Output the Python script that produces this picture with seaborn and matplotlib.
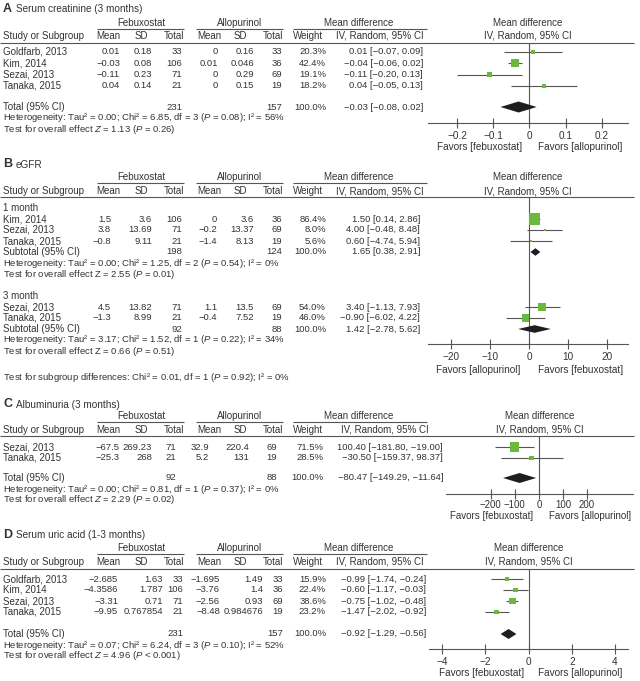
import matplotlib
matplotlib.use("Agg")
import matplotlib.pyplot as plt
import numpy as np
import pandas as pd
import seaborn as sns
from matplotlib.ticker import FuncFormatter

# ---------------- data ----------------
# Panel A: Serum creatinine (3 months)
A_study = ["Goldfarb, 2013", "Kim, 2014", "Sezai, 2013", "Tanaka, 2015"]
A_feb_mean = [0.01, -0.03, -0.11, 0.04]
A_feb_sd = [0.18, 0.08, 0.23, 0.14]
A_feb_n = [33, 106, 71, 21]
A_allo_mean = [0, 0.01, 0, 0]
A_allo_sd = [0.16, 0.046, 0.29, 0.15]
A_allo_n = [33, 36, 69, 19]
A_weight = [20.3, 42.4, 19.1, 18.2]
A_md = [0.01, -0.04, -0.11, 0.04]
A_lo = [-0.07, -0.06, -0.20, -0.05]
A_hi = [0.09, -0.02, -0.02, 0.13]
A_ci_text = ["0.01 [−0.07, 0.09]", "−0.04 [−0.06, 0.02]", "−0.11 [−0.20, 0.13]", "0.04 [−0.05, 0.13]"]
A_total_n = [231, 157]
A_total_md = [-0.03, -0.08, 0.02]
A_het = r"Heterogeneity: Tau² = 0.00; Chi² = 6.85, df = 3 ($P$ = 0.08); I² = 56%"
A_test = r"Test for overall effect $Z$ = 1.13 ($P$ = 0.26)"
A_ticks = [-0.2, -0.1, 0, 0.1, 0.2]
A_favors = ["Favors [febuxostat]", "Favors [allopurinol]"]

# Panel B: eGFR
B1_study = ["Kim, 2014", "Sezai, 2013", "Tanaka, 2015"]
B1_feb_mean = [1.5, 3.8, -0.8]
B1_feb_sd = [3.6, 13.69, 9.11]
B1_feb_n = [106, 71, 21]
B1_allo_mean = [0, -0.2, -1.4]
B1_allo_sd = [3.6, 13.37, 8.13]
B1_allo_n = [36, 69, 19]
B1_weight = [86.4, 8.0, 5.6]
B1_md = [1.50, 4.00, 0.60]
B1_lo = [0.14, -0.48, -4.74]
B1_hi = [2.86, 8.48, 5.94]
B1_total_n = [198, 124]
B1_total_md = [1.65, 0.38, 2.91]
B1_het = r"Heterogeneity: Tau² = 0.00; Chi² = 1.25, df = 2 ($P$ = 0.54); I² = 0%"
B1_test = r"Test for overall effect Z = 2.55 ($P$ = 0.01)"

B3_study = ["Sezai, 2013", "Tanaka, 2015"]
B3_feb_mean = [4.5, -1.3]
B3_feb_sd = [13.82, 8.99]
B3_feb_n = [71, 21]
B3_allo_mean = [1.1, -0.4]
B3_allo_sd = [13.5, 7.52]
B3_allo_n = [69, 19]
B3_weight = [54.0, 46.0]
B3_md = [3.40, -0.90]
B3_lo = [-1.13, -6.02]
B3_hi = [7.93, 4.22]
B3_total_n = [92, 88]
B3_total_md = [1.42, -2.78, 5.62]
B3_het = r"Heterogeneity: Tau² = 3.17; Chi² = 1.52, df = 1 ($P$ = 0.22); I² = 34%"
B3_test = r"Test for overall effect Z = 0.66 ($P$ = 0.51)"
B_subgroup_test = r"Test for subgroup differences: Chi² = 0.01, df = 1 ($P$ = 0.92); I² = 0%"
B_ticks = [-20, -10, 0, 10, 20]
B_favors = ["Favors [allopurinol]", "Favors [febuxostat]"]

# Panel C: Albuminuria (3 months)
C_study = ["Sezai, 2013", "Tanaka, 2015"]
C_feb_mean = [-67.5, -25.3]
C_feb_sd = [269.23, 268]
C_feb_n = [71, 21]
C_allo_mean = [32.9, 5.2]
C_allo_sd = [220.4, 131]
C_allo_n = [69, 19]
C_weight = [71.5, 28.5]
C_md = [-100.40, -30.50]
C_lo = [-181.80, -159.37]
C_hi = [-19.00, 98.37]
C_ci_text = ["100.40 [−181.80, −19.00]", "−30.50 [−159.37, 98.37]"]
C_total_n = [92, 88]
C_total_md = [-80.47, -149.29, -11.64]
C_het = r"Heterogeneity: Tau² = 0.00; Chi² = 0.81, df = 1 ($P$ = 0.37); I² = 0%"
C_test = r"Test for overall effect $Z$ = 2.29 ($P$ = 0.02)"
C_ticks = [-200, -100, 0, 100, 200]
C_favors = ["Favors [febuxostat]", "Favors [allopurinol]"]

# Panel D: Serum uric acid (1-3 months)
D_study = ["Goldfarb, 2013", "Kim, 2014", "Sezai, 2013", "Tanaka, 2015"]
D_feb_mean = [-2.685, -4.3586, -3.31, -9.95]
D_feb_sd = [1.63, 1.787, 0.71, 0.767854]
D_feb_n = [33, 106, 71, 21]
D_allo_mean = [-1.695, -3.76, -2.56, -8.48]
D_allo_sd = [1.49, 1.4, 0.93, 0.984676]
D_allo_n = [33, 36, 69, 19]
D_weight = [15.9, 22.4, 38.6, 23.2]
D_md = [-0.99, -0.60, -0.75, -1.47]
D_lo = [-1.74, -1.17, -1.02, -2.02]
D_hi = [-0.24, -0.03, -0.48, -0.92]
D_total_n = [231, 157]
D_total_md = [-0.92, -1.29, -0.56]
D_het = r"Heterogeneity: Tau² = 0.07; Chi² = 6.24, df = 3 ($P$ = 0.10); I² = 52%"
D_test = r"Test for overall effect $Z$ = 4.96 ($P$ < 0.001)"
D_ticks = [-4, -2, 0, 2, 4]
D_favors = ["Favors [febuxostat]", "Favors [allopurinol]"]

# ---------------- style ----------------
sns.set_theme(style="white")
plt.rcParams["font.family"] = ["Liberation Sans", "DejaVu Sans"]
plt.rcParams["mathtext.fontset"] = "custom"
plt.rcParams["mathtext.rm"] = "Liberation Sans"
plt.rcParams["mathtext.it"] = "Liberation Sans:italic"
plt.rcParams["mathtext.bf"] = "Liberation Sans:bold"

TXT = "#333333"
LINE = "#555555"
GREEN = "#6ab93d"
DIAM = "#1e1e1e"
FS = 7.0
NFS = 6.8
SFS = 6.8

W, H = 640, 681
fig = plt.figure(figsize=(W / 100, H / 100), dpi=100)
cv = fig.add_axes([0, 0, 1, 1])
cv.set_xlim(0, W)
cv.set_ylim(H, 0)
cv.axis("off")


def fmt(v):
    return f"{v:g}".replace("-", "−")


def fmt2(v):
    return f"{v:.2f}".replace("-", "−")


def ci(md, lo, hi):
    return f"{fmt2(md)} [{fmt2(lo)}, {fmt2(hi)}]"


def put(x, y, s, ha="left", size=FS, **kw):
    cv.text(x, y, s, ha=ha, va="center", fontsize=size, color=TXT, **kw)


def stat(y, s):
    put(3, y, s, size=SFS)


def hline(x0, x1, y, lw=0.8):
    cv.plot([x0, x1], [y, y], color=LINE, lw=lw, solid_capstyle="butt")


HEAD_COLS = [120, 148, 184, 221, 247, 283]


def header(letter, title, ty, gy, hy, ly, fx0, fx1, ivx=380):
    put(3, ty, letter, size=9, fontweight="bold")
    put(16, ty + 0.5, title, size=7.2)
    put(141, gy, "Febuxostat", ha="center")
    put(240, gy, "Allopurinol", ha="center")
    put(359, gy, "Mean difference", ha="center")
    hline(97, 184, gy + 6)
    hline(196, 283, gy + 6)
    hline(293, 427, gy + 6)
    put(3, hy, "Study or Subgroup")
    for x, s in zip(HEAD_COLS, ["Mean", "SD", "Total", "Mean", "SD", "Total"]):
        put(x, hy, s, ha="right")
    put(293, hy, "Weight")
    put(ivx, hy, "IV, Random, 95% CI", ha="center")
    fc = (fx0 + fx1) / 2
    put(fc, gy, "Mean difference", ha="center")
    put(fc, hy, "IV, Random, 95% CI", ha="center")
    hline(0, 634, ly)


def rows(ys, study, fm, fs, fn, am, asd, an, wt, citext, cols, wx, mdx):
    for i, y in enumerate(ys):
        put(3, y, study[i])
        vals = [fmt(fm[i]), fmt(fs[i]), str(fn[i]), fmt(am[i]), fmt(asd[i]), str(an[i])]
        for x, s in zip(cols, vals):
            put(x, y, s, ha="right", size=NFS)
        put(wx, y, f"{wt[i]:.1f}%", ha="right", size=NFS)
        put(mdx, y, citext[i], ha="right", size=NFS)


def total_row(y, label, tn, tmd, cols, wx, mdx):
    put(3, y, label)
    put(cols[2], y, str(tn[0]), ha="right", size=NFS)
    put(cols[5], y, str(tn[1]), ha="right", size=NFS)
    put(wx, y, "100.0%", ha="right", size=NFS)
    put(mdx, y, ci(*tmd), ha="right", size=NFS)


def forest(x0, x1, ytop, ybot):
    ax = fig.add_axes([x0 / W, 1 - ybot / H, (x1 - x0) / W, (ybot - ytop) / H])
    ax.patch.set_alpha(0)
    return ax


def finish(ax, ytop, ybot, xlim, ticks, lsize=7.2, pad=2):
    ax.set_xlim(*xlim)
    ax.set_ylim(ybot, ytop)
    for s in ["top", "left", "right"]:
        ax.spines[s].set_visible(False)
    ax.spines["bottom"].set_color(LINE)
    ax.spines["bottom"].set_linewidth(0.8)
    ax.set_xticks(ticks)
    ax.xaxis.set_major_formatter(FuncFormatter(lambda v, p: fmt(round(v, 6))))
    ax.set_yticks([])
    ax.tick_params(axis="x", direction="inout", length=7, width=0.8, color=LINE,
                   labelsize=lsize, labelcolor=TXT, pad=pad, bottom=True)
    ax.axvline(0, color=LINE, lw=0.8, zorder=1)
    ax.set_xlabel("")
    ax.set_ylabel("")
    ax.grid(False)


def studies(ax, ys, md, lo, hi, wt, k=0.52):
    ax.hlines(ys, lo, hi, color=LINE, lw=0.8, zorder=2)
    side_pt = k * np.asarray(wt, float) ** 0.7 * 0.72
    df = pd.DataFrame({"md": md, "y": ys})
    sns.scatterplot(data=df, x="md", y="y", marker="s", s=side_pt ** 2, color=GREEN,
                    edgecolor="none", linewidth=0, ax=ax, legend=False, zorder=3)


def diamond(ax, y, tmd, h):
    md, lo, hi = tmd
    ax.fill([lo, md, hi, md], [y, y - h, y, y + h], color=DIAM, lw=0, zorder=3)


def favors(y, xl, xr, labels, size=7.2):
    put(xl, y, labels[0], ha="center", size=size)
    put(xr, y, labels[1], ha="center", size=size)


# ---------------- Panel A ----------------
A_cols = [120, 152, 182, 218, 254, 282]
header("A", "Serum creatinine (3 months)", 9, 23, 36, 43, 428, 628)
A_y = [52, 63, 74.5, 86]
rows(A_y, A_study, A_feb_mean, A_feb_sd, A_feb_n, A_allo_mean, A_allo_sd, A_allo_n,
     A_weight, A_ci_text, A_cols, 326, 423)
total_row(107, "Total (95% CI)", A_total_n, A_total_md, A_cols, 326, 423)
stat(118, A_het)
stat(130, A_test)
axA = forest(428, 628, 43, 123)
studies(axA, A_y, A_md, A_lo, A_hi, A_weight, k=0.56)
diamond(axA, 107, A_total_md, 5.5)
finish(axA, 43, 123, (-0.280, 0.272), A_ticks)
favors(147, 480, 580, A_favors)

# ---------------- Panel B ----------------
B_cols = [111, 152, 182, 217, 254, 282]
header("B", "eGFR", 164, 177, 191, 197, 428, 628)
put(3, 208, "1 month")
B1_y = [219, 230, 241]
rows(B1_y, B1_study, B1_feb_mean, B1_feb_sd, B1_feb_n, B1_allo_mean, B1_allo_sd, B1_allo_n,
     B1_weight, [ci(*t) for t in zip(B1_md, B1_lo, B1_hi)], B_cols, 326, 420)
total_row(252, "Subtotal (95% CI)", B1_total_n, B1_total_md, B_cols, 326, 420)
stat(263, B1_het)
stat(274.5, B1_test)
put(3, 296, "3 month")
B3_y = [307, 318]
rows(B3_y, B3_study, B3_feb_mean, B3_feb_sd, B3_feb_n, B3_allo_mean, B3_allo_sd, B3_allo_n,
     B3_weight, [ci(*t) for t in zip(B3_md, B3_lo, B3_hi)], B_cols, 326, 420)
total_row(329, "Subtotal (95% CI)", B3_total_n, B3_total_md, B_cols, 326, 420)
stat(340, B3_het)
stat(351.5, B3_test)
stat(378, B_subgroup_test)
axB = forest(428, 628, 197, 344)
studies(axB, B1_y + B3_y, B1_md + B3_md, B1_lo + B3_lo, B1_hi + B3_hi, B1_weight + B3_weight, k=0.49)
diamond(axB, 252, B1_total_md, 3.8)
diamond(axB, 329, B3_total_md, 3.8)
finish(axB, 197, 344, (-25.9, 25.4), B_ticks)
favors(370, 478, 581, B_favors)

# ---------------- Panel C ----------------
C_cols = [120, 152, 176, 209, 249, 277]
header("C", "Albuminuria (3 months)", 404, 416, 430, 436, 446, 633, ivx=385)
C_y = [447, 458]
rows(C_y, C_study, C_feb_mean, C_feb_sd, C_feb_n, C_allo_mean, C_allo_sd, C_allo_n,
     C_weight, C_ci_text, C_cols, 323, 443)
total_row(478, "Total (95% CI)", C_total_n, C_total_md, C_cols, 323, 443)
stat(489, C_het)
stat(500, C_test)
axC = forest(446, 633, 436, 494)
studies(axC, C_y, C_md, C_lo, C_hi, C_weight, k=0.46)
diamond(axC, 478, C_total_md, 5)
finish(axC, 436, 494, (-387, 392), C_ticks, lsize=6.9, pad=1)
favors(516, 492, 590, C_favors, size=7.0)

# ---------------- Panel D ----------------
D_cols = [118, 163, 183, 220, 263, 283]
header("D", "Serum uric acid (1-3 months)", 535, 548, 562, 569, 429, 628)
D_y = [579, 590, 601, 612]
rows(D_y, D_study, D_feb_mean, D_feb_sd, D_feb_n, D_allo_mean, D_allo_sd, D_allo_n,
     D_weight, [ci(*t) for t in zip(D_md, D_lo, D_hi)], D_cols, 326, 426)
total_row(634, "Total (95% CI)", D_total_n, D_total_md, D_cols, 326, 426)
stat(645, D_het)
stat(656, D_test)
axD = forest(429, 628, 569, 649)
studies(axD, D_y, D_md, D_lo, D_hi, D_weight, k=0.54)
diamond(axD, 634, D_total_md, 5)
finish(axD, 569, 649, (-4.6, 4.6), D_ticks)
favors(673, 482, 580, D_favors)

fig.savefig("out.png", dpi=100)
